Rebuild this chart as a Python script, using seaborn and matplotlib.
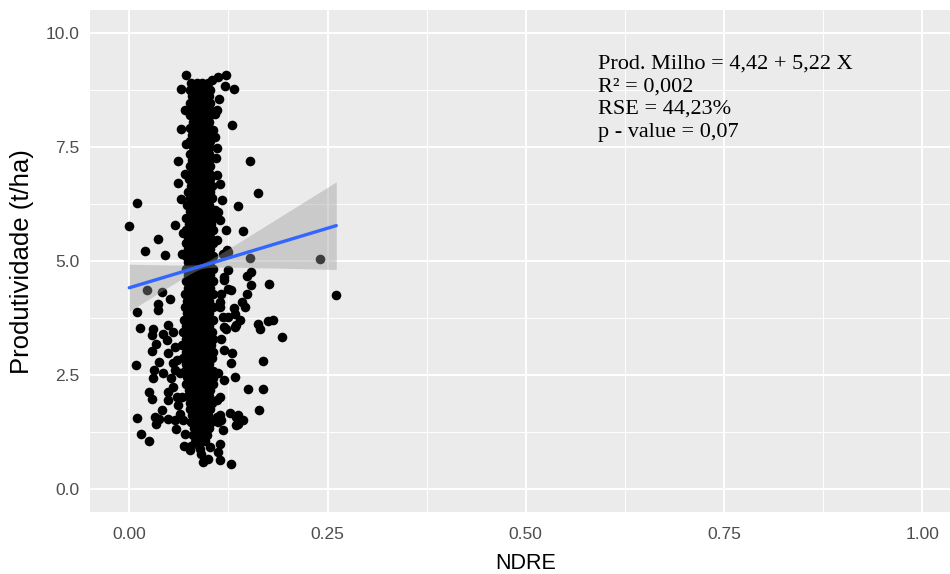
import numpy as np
import pandas as pd
import matplotlib
matplotlib.use("Agg")
import matplotlib.pyplot as plt
import seaborn as sns

# --- scattered plots (NDRE, yield t/ha) ---
ndre_pts = [
    0.071, 0.065, 0.104, 0.112, 0.122, 0.121, 0.132, 0.113,
    0.130, 0.065, 0.061, 0.061, 0.110, 0.111, 0.110, 0.108,
    0.109, 0.070, 0.072, 0.070, 0.108, 0.106, 0.114, 0.108,
    0.114, 0.110, 0.152, 0.162, 0.137, 0.143, 0.117, 0.122,
    0.010, 0.000, 0.057, 0.036, 0.020, 0.045, 0.022, 0.041,
    0.051, 0.036, 0.036, 0.010, 0.014, 0.030, 0.065, 0.068,
    0.066,
    0.112, 0.125, 0.125, 0.120, 0.125, 0.114, 0.125, 0.132,
    0.133, 0.152, 0.241, 0.261, 0.154, 0.148, 0.176, 0.154,
    0.128, 0.148, 0.142, 0.146, 0.133, 0.140, 0.162, 0.165,
    0.175, 0.181, 0.193, 0.122, 0.116, 0.119, 0.128, 0.168,
    0.133, 0.150, 0.168, 0.164, 0.127, 0.134, 0.144, 0.135,
    0.114, 0.112, 0.118, 0.123, 0.120, 0.116, 0.114, 0.118,
    0.112, 0.120, 0.110, 0.114, 0.129, 0.137, 0.137, 0.120,
    0.135, 0.110, 0.116, 0.106,
    0.029, 0.043, 0.034, 0.029, 0.008, 0.038, 0.049, 0.031,
    0.030, 0.043, 0.055, 0.057, 0.053, 0.055, 0.025, 0.028,
    0.049, 0.049, 0.041, 0.038, 0.032, 0.034, 0.010, 0.049,
    0.057, 0.059, 0.015, 0.025, 0.047, 0.060, 0.064, 0.066,
    0.062, 0.068, 0.070, 0.049, 0.055, 0.058, 0.060, 0.064,
    0.069, 0.076, 0.078, 0.091, 0.093, 0.099, 0.112, 0.114,
    0.128, 0.114, 0.118, 0.102, 0.089, 0.083,
]
prod_pts = [
    9.08, 8.77, 8.97, 9.04, 9.08, 8.84, 8.77, 8.55,
    7.98, 7.91, 7.19, 6.72, 7.49, 6.89, 8.31, 7.73,
    7.26, 8.31, 7.58, 6.92, 8.24, 7.87, 6.70, 6.12,
    5.90, 5.46, 7.20, 6.50, 6.22, 5.66, 6.35, 5.69,
    6.28, 5.77, 5.80, 5.48, 5.23, 5.13, 4.36, 4.33,
    4.18, 4.07, 3.94, 3.89, 3.53, 3.52, 6.37, 5.61,
    5.17,
    6.08, 5.20, 4.80, 4.66, 4.40, 4.11, 3.78, 3.97,
    3.56, 5.08, 5.06, 4.25, 4.77, 4.67, 4.50, 4.47,
    4.38, 4.29, 4.11, 4.00, 3.85, 3.71, 3.63, 3.52,
    3.69, 3.72, 3.33, 3.52, 3.30, 3.05, 2.77, 2.81,
    2.46, 2.20, 2.20, 1.73, 1.67, 1.59, 1.51, 1.40,
    1.62, 1.48, 5.17, 5.24, 4.58, 4.29, 4.00, 3.78,
    2.54, 2.39, 1.95, 2.02, 2.98, 1.62, 1.44, 3.56,
    3.60, 1.59, 1.51, 2.43,
    3.38, 3.40, 3.18, 3.03, 2.73, 2.79, 2.98, 2.61,
    2.45, 2.55, 2.76, 2.61, 2.43, 2.24, 2.13, 1.99,
    2.13, 1.95, 1.73, 1.55, 1.59, 1.44, 1.56, 1.55,
    1.51, 1.33, 1.22, 1.07, 3.27, 2.83, 2.54, 2.02,
    1.84, 1.51, 1.22, 3.60, 3.46, 3.13, 2.03, 1.66,
    0.96, 0.86, 0.96, 0.78, 0.60, 0.67, 0.82, 0.64,
    0.55, 1.00, 1.29, 0.93, 0.89, 1.04,
]

# --- dense core: yield level of each row and the NDRE values found at that level ---
nucleo_prod = [
    8.90, 8.76, 8.62, 8.48, 8.34, 8.20, 8.06, 7.92, 7.78, 7.64,
    7.50, 7.36, 7.22, 7.08, 6.94, 6.80, 6.66, 6.52, 6.38, 6.24,
    6.10, 5.96, 5.82, 5.68, 5.54, 5.40, 5.26, 5.12, 4.98, 4.84,
    4.70, 4.56, 4.42, 4.28, 4.14, 4.00, 3.86, 3.72, 3.58, 3.44,
    3.30, 3.16, 3.02, 2.88, 2.74, 2.60, 2.46, 2.32, 2.18, 2.04,
    1.90, 1.76, 1.62, 1.48, 1.34, 1.20, 1.06,
]
nucleo_ndre = [
    [0.078, 0.085, 0.092, 0.099],
    [0.076, 0.083, 0.090, 0.097, 0.102],
    [0.079, 0.086, 0.093, 0.100],
    [0.076, 0.083, 0.090, 0.097, 0.102],
    [0.079, 0.086, 0.093, 0.100],
    [0.077, 0.084, 0.091, 0.098, 0.102],
    [0.080, 0.087, 0.094, 0.100],
    [0.076, 0.083, 0.090, 0.097, 0.101],
    [0.079, 0.086, 0.093, 0.100],
    [0.077, 0.084, 0.091, 0.098, 0.102],
    [0.080, 0.087, 0.094, 0.100],
    [0.076, 0.083, 0.090, 0.097, 0.101],
    [0.079, 0.086, 0.093, 0.100],
    [0.077, 0.084, 0.091, 0.098, 0.102],
    [0.079, 0.086, 0.093, 0.100],
    [0.075, 0.082, 0.089, 0.096, 0.102],
    [0.078, 0.085, 0.092, 0.099, 0.104],
    [0.074, 0.081, 0.088, 0.095, 0.102],
    [0.077, 0.084, 0.091, 0.098, 0.104],
    [0.073, 0.080, 0.087, 0.094, 0.101],
    [0.076, 0.083, 0.090, 0.097, 0.104],
    [0.072, 0.079, 0.086, 0.093, 0.100, 0.106],
    [0.075, 0.082, 0.089, 0.096, 0.103],
    [0.071, 0.078, 0.085, 0.092, 0.099, 0.106],
    [0.074, 0.081, 0.088, 0.095, 0.102],
    [0.071, 0.078, 0.085, 0.092, 0.099, 0.106],
    [0.074, 0.081, 0.088, 0.095, 0.102],
    [0.071, 0.078, 0.085, 0.092, 0.099, 0.106],
    [0.074, 0.081, 0.088, 0.095, 0.102],
    [0.071, 0.078, 0.085, 0.092, 0.099, 0.106],
    [0.074, 0.081, 0.088, 0.095, 0.102],
    [0.071, 0.078, 0.085, 0.092, 0.099, 0.106],
    [0.074, 0.081, 0.088, 0.095, 0.102],
    [0.070, 0.077, 0.084, 0.091, 0.098, 0.106],
    [0.073, 0.080, 0.087, 0.094, 0.101],
    [0.070, 0.077, 0.084, 0.091, 0.098, 0.106],
    [0.073, 0.080, 0.087, 0.094, 0.101],
    [0.069, 0.076, 0.083, 0.090, 0.097, 0.105],
    [0.072, 0.079, 0.086, 0.093, 0.100],
    [0.068, 0.075, 0.082, 0.089, 0.096, 0.104],
    [0.071, 0.078, 0.085, 0.092, 0.099, 0.106],
    [0.067, 0.074, 0.081, 0.088, 0.095, 0.103],
    [0.071, 0.078, 0.085, 0.092, 0.099, 0.106],
    [0.068, 0.075, 0.082, 0.089, 0.096, 0.104],
    [0.072, 0.079, 0.086, 0.093, 0.100],
    [0.070, 0.077, 0.084, 0.091, 0.098, 0.105],
    [0.073, 0.080, 0.087, 0.094, 0.101],
    [0.072, 0.079, 0.086, 0.093, 0.100, 0.105],
    [0.075, 0.082, 0.089, 0.096, 0.102],
    [0.074, 0.081, 0.088, 0.095, 0.101],
    [0.077, 0.084, 0.091, 0.098, 0.104],
    [0.076, 0.083, 0.090, 0.097, 0.102],
    [0.079, 0.086, 0.093, 0.099],
    [0.078, 0.085, 0.092, 0.099, 0.103],
    [0.081, 0.088, 0.095, 0.100],
    [0.080, 0.087, 0.094, 0.098],
    [0.084, 0.091, 0.095],
]

# --- linear model reported on the chart ---
intercepto = 4.42
inclinacao = 5.22
se_media = 0.03        # standard error of the fit at mean NDRE
se_inclinacao = 2.88   # standard error of the slope
anotacao = ["Prod. Milho = 4,42 + 5,22 X", "R\u00b2 = 0,002",
            "RSE = 44,23%", "p - value = 0,07"]

x_ticks = [0.00, 0.25, 0.50, 0.75, 1.00]
x_labels = ["0.00", "0.25", "0.50", "0.75", "1.00"]
x_minor = [0.125, 0.375, 0.625, 0.875]
y_ticks = [0.0, 2.5, 5.0, 7.5, 10.0]
y_labels = ["0.0", "2.5", "5.0", "7.5", "10.0"]
y_minor = [1.25, 3.75, 6.25, 8.75]

# --- assemble data frame ---
ndre_all = list(ndre_pts)
prod_all = list(prod_pts)
for nivel, valores in zip(nucleo_prod, nucleo_ndre):
    ndre_all += valores
    prod_all += [nivel] * len(valores)
df = pd.DataFrame({"NDRE": ndre_all, "Produtividade": prod_all})

# fitted line and 95% confidence band over the observed NDRE range
x_fit = np.linspace(df["NDRE"].min(), df["NDRE"].max(), 120)
y_fit = intercepto + inclinacao * x_fit
x_bar = df["NDRE"].mean()
se_fit = np.sqrt(se_media ** 2 + (x_fit - x_bar) ** 2 * se_inclinacao ** 2)
banda_inf = y_fit - 1.96 * se_fit
banda_sup = y_fit + 1.96 * se_fit

# --- styling ---
sns.set_theme(style="darkgrid", rc={
    "axes.facecolor": "#EBEBEB",
    "grid.color": "white",
    "figure.facecolor": "white",
})
plt.rcParams["font.family"] = ["Liberation Sans", "DejaVu Sans"]

fig = plt.figure(figsize=(9.5, 5.74), dpi=100)
ax = fig.add_axes([0.09437, 0.10784, 0.91821, 0.87387])
ax.set_axisbelow(True)

sns.scatterplot(data=df, x="NDRE", y="Produtividade", color="black",
                s=48, linewidth=0, ax=ax, legend=False, zorder=2)
ax.fill_between(x_fit, banda_inf, banda_sup, color="#999999", alpha=0.4,
                linewidth=0, zorder=3)
sns.lineplot(x=x_fit, y=y_fit, color="#3366FF", linewidth=2.4, ax=ax,
             zorder=4)

ax.set_xlim(-0.05, 1.05)
ax.set_ylim(-0.5, 10.5)
ax.set_xticks(x_ticks)
ax.set_xticklabels(x_labels)
ax.set_xticks(x_minor, minor=True)
ax.set_yticks(y_ticks)
ax.set_yticklabels(y_labels)
ax.set_yticks(y_minor, minor=True)
ax.grid(which="major", color="white", linewidth=1.4)
ax.grid(which="minor", color="white", linewidth=0.7)
for s in ax.spines.values():
    s.set_visible(False)
ax.tick_params(which="major", length=3.6, width=0.9, color="#333333",
               labelcolor="#4D4D4D", labelsize=12.5)
ax.tick_params(axis="x", which="major", pad=7)
ax.tick_params(axis="y", which="major", pad=4)
ax.tick_params(which="minor", length=0)

ax.set_xlabel("NDRE", fontsize=15.5, color="black")
ax.xaxis.set_label_coords(0.5, -0.081)
ax.set_ylabel("Produtividade (t/ha)", fontsize=18.5, color="black")
ax.yaxis.set_label_coords(-0.064, 0.5)

for linha, yb in zip(anotacao, [9.23, 8.73, 8.23, 7.72]):
    ax.text(0.591, yb, linha, family=["Liberation Serif", "DejaVu Serif"],
            fontsize=16, va="baseline", ha="left", color="black")

fig.savefig("out.png", dpi=100)
